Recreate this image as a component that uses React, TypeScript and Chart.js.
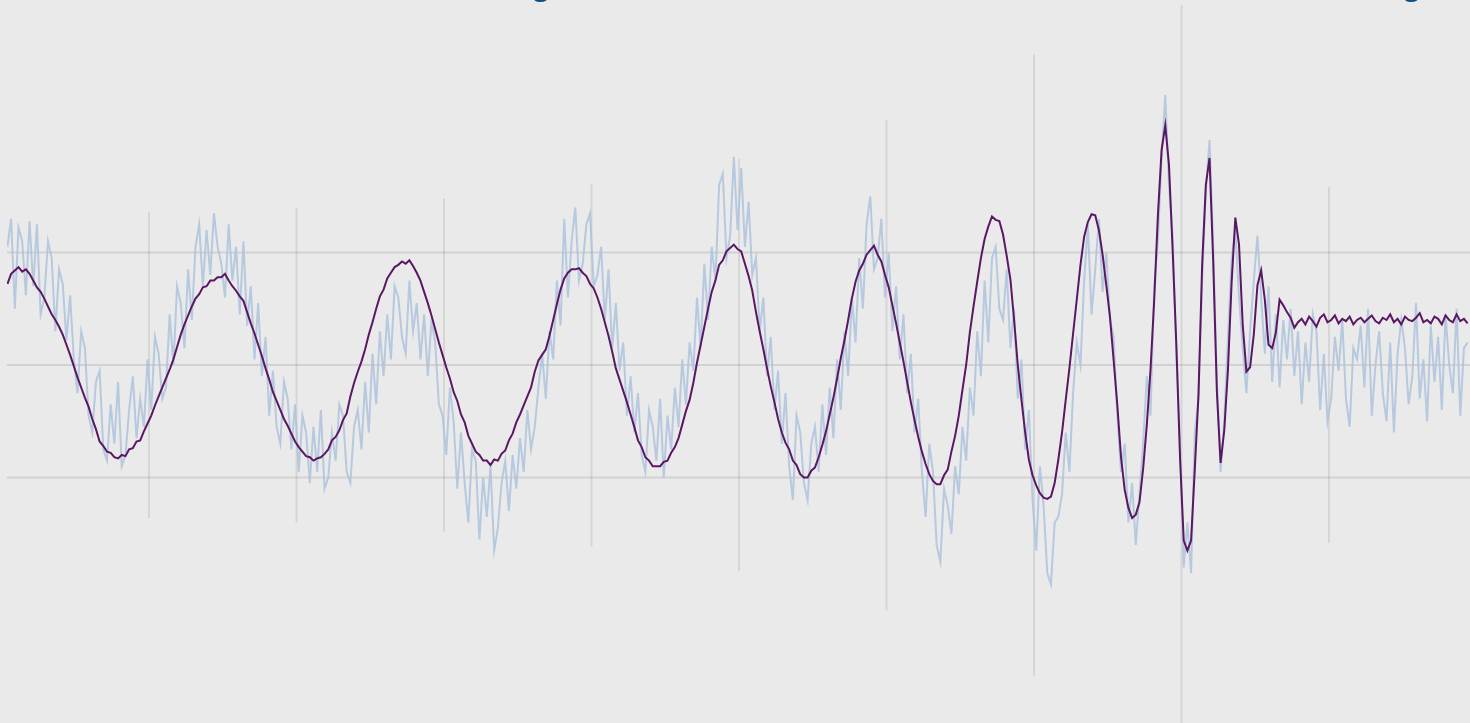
import { useEffect, useRef } from "react";
import { Chart, registerables } from "chart.js";

Chart.register(...registerables);

// ---- axis window (data units) ----
const X_MIN = 0.037;
const X_MAX = 9.956;
const Y_MIN = -3.182;
const Y_MAX = 3.244;

// samples are evenly spaced in time
const SAMPLE_START = 0.04;
const SAMPLE_STEP = 0.025;

// smoothed / template signal (purple)
const smoothed: number[] = [
  0.72, 0.81, 0.84, 0.87, 0.83, 0.85, 0.81, 0.75, 0.69, 0.65,
  0.59, 0.52, 0.45, 0.40, 0.34, 0.27, 0.18, 0.09, -0.01, -0.11,
  -0.20, -0.29, -0.37, -0.48, -0.57, -0.68, -0.72, -0.77, -0.78, -0.82,
  -0.83, -0.80, -0.81, -0.75, -0.74, -0.68, -0.67, -0.59, -0.52, -0.45,
  -0.36, -0.28, -0.20, -0.12, -0.04, 0.05, 0.16, 0.27, 0.36, 0.44,
  0.52, 0.59, 0.63, 0.69, 0.70, 0.75, 0.75, 0.78, 0.78, 0.81,
  0.75, 0.70, 0.66, 0.61, 0.57, 0.47, 0.37, 0.28, 0.18, 0.08,
  -0.03, -0.13, -0.24, -0.32, -0.40, -0.48, -0.54, -0.61, -0.68, -0.73,
  -0.77, -0.81, -0.82, -0.85, -0.83, -0.82, -0.79, -0.75, -0.67, -0.64,
  -0.58, -0.49, -0.43, -0.28, -0.16, -0.06, 0.03, 0.14, 0.27, 0.38,
  0.50, 0.61, 0.67, 0.77, 0.82, 0.87, 0.89, 0.92, 0.90, 0.93,
  0.88, 0.82, 0.75, 0.65, 0.55, 0.44, 0.32, 0.20, 0.09, -0.02,
  -0.12, -0.24, -0.32, -0.44, -0.51, -0.63, -0.70, -0.77, -0.80, -0.85,
  -0.85, -0.89, -0.84, -0.85, -0.79, -0.76, -0.67, -0.61, -0.51, -0.44,
  -0.36, -0.28, -0.20, -0.06, 0.04, 0.09, 0.14, 0.26, 0.40, 0.54,
  0.67, 0.77, 0.82, 0.85, 0.85, 0.86, 0.82, 0.79, 0.72, 0.68,
  0.60, 0.50, 0.38, 0.26, 0.12, -0.03, -0.13, -0.23, -0.33, -0.44,
  -0.55, -0.67, -0.73, -0.82, -0.85, -0.90, -0.90, -0.90, -0.86, -0.85,
  -0.78, -0.73, -0.65, -0.53, -0.41, -0.31, -0.16, 0.02, 0.18, 0.34,
  0.50, 0.65, 0.75, 0.89, 0.93, 1.01, 1.04, 1.07, 1.03, 1.01,
  0.90, 0.79, 0.66, 0.47, 0.30, 0.14, -0.03, -0.19, -0.33, -0.48,
  -0.60, -0.69, -0.75, -0.85, -0.89, -0.97, -1.00, -1.00, -0.94, -0.91,
  -0.82, -0.71, -0.59, -0.44, -0.29, -0.12, 0.06, 0.22, 0.40, 0.59,
  0.74, 0.84, 0.90, 0.98, 1.02, 1.06, 0.98, 0.92, 0.80, 0.69,
  0.53, 0.37, 0.20, 0.03, -0.15, -0.33, -0.49, -0.64, -0.77, -0.88,
  -0.97, -1.03, -1.06, -1.06, -0.98, -0.93, -0.77, -0.63, -0.45, -0.22,
  0.00, 0.29, 0.52, 0.74, 0.95, 1.12, 1.23, 1.32, 1.29, 1.28,
  1.16, 0.97, 0.76, 0.40, 0.00, -0.31, -0.60, -0.84, -0.98, -1.07,
  -1.14, -1.18, -1.19, -1.17, -1.05, -0.84, -0.60, -0.31, -0.03, 0.28,
  0.58, 0.89, 1.14, 1.27, 1.34, 1.33, 1.20, 0.98, 0.71, 0.43,
  0.04, -0.36, -0.82, -1.11, -1.27, -1.36, -1.33, -1.22, -0.92, -0.53,
  -0.04, 0.58, 1.33, 1.91, 2.13, 1.78, 1.02, 0.18, -0.82, -1.56,
  -1.65, -1.56, -0.93, -0.27, 0.89, 1.60, 1.84, 0.92, -0.24, -0.87,
  -0.58, -0.04, 0.74, 1.31, 1.07, 0.36, -0.06, -0.02, 0.27, 0.71,
  0.84, 0.58, 0.18, 0.15, 0.29, 0.58, 0.53, 0.47, 0.42, 0.33,
  0.38, 0.41, 0.36, 0.43, 0.39, 0.34, 0.42, 0.45, 0.38, 0.40,
  0.44, 0.37, 0.41, 0.39, 0.43, 0.36, 0.40, 0.42, 0.38, 0.41,
  0.44, 0.39, 0.37, 0.42, 0.40, 0.45, 0.38, 0.41, 0.36, 0.43,
  0.40, 0.39, 0.42, 0.46, 0.38, 0.40, 0.37, 0.43, 0.41, 0.36,
  0.44, 0.40, 0.38, 0.45, 0.39, 0.41, 0.37,
];

// raw noisy signal (light blue)
const noisy: number[] = [
  1.05, 1.30, 0.50, 1.22, 1.10, 0.62, 1.28, 0.70, 1.25, 0.45,
  0.60, 1.10, 0.95, 0.30, 0.85, 0.72, 0.22, 0.62, 0.05, -0.25,
  0.30, 0.15, -0.45, -0.60, -0.15, -0.05, -0.75, -0.85, -0.35, -0.70,
  -0.15, -0.90, -0.80, -0.40, -0.10, -0.65, -0.30, -0.55, 0.05, -0.40,
  0.25, 0.10, -0.30, -0.20, 0.45, 0.00, 0.70, 0.55, 0.15, 0.85,
  0.40, 1.05, 1.25, 0.70, 1.20, 0.80, 1.35, 1.05, 0.90, 0.60,
  1.25, 0.75, 1.05, 0.45, 1.10, 0.35, 0.70, 0.05, 0.55, -0.10,
  0.25, -0.45, -0.05, -0.55, -0.70, -0.15, -0.30, -0.75, -0.35, -0.95,
  -0.45, -0.60, -1.05, -0.55, -0.95, -0.40, -1.10, -1.00, -0.60, -0.85,
  -0.35, -0.45, -0.95, -1.05, -0.55, -0.40, -0.75, -0.15, -0.60, 0.10,
  -0.35, 0.30, -0.10, 0.45, 0.05, 0.70, 0.60, 0.25, 0.10, 0.75,
  0.30, 0.55, 0.05, 0.45, -0.10, 0.40, 0.20, -0.35, -0.45, -0.80,
  -0.20, -0.50, -1.10, -0.60, -1.05, -1.40, -0.75, -0.85, -1.55, -1.00,
  -1.35, -0.90, -1.65, -1.45, -1.05, -0.85, -1.30, -0.80, -1.10, -0.65,
  -0.95, -0.40, -0.75, -0.55, -0.20, 0.10, -0.30, 0.30, 0.05, 0.75,
  0.35, 1.30, 0.60, 1.10, 1.40, 0.75, 0.90, 1.25, 1.35, 0.70,
  0.80, 1.05, 0.40, 0.85, 0.15, 0.55, -0.05, 0.20, -0.45, -0.10,
  -0.60, -0.25, -0.80, -0.95, -0.40, -0.55, -0.85, -0.30, -1.00, -0.45,
  -0.75, -0.20, -0.55, 0.05, -0.35, 0.20, -0.05, 0.60, 0.15, 0.90,
  0.40, 1.05, 0.75, 1.60, 1.70, 0.95, 1.15, 1.85, 1.20, 1.75,
  1.05, 1.45, 0.80, 0.95, 0.30, 0.60, -0.10, 0.25, -0.40, -0.05,
  -0.70, -0.25, -0.90, -1.20, -0.45, -0.60, -1.05, -1.20, -0.70, -0.55,
  -0.95, -0.35, -0.80, -0.20, -0.65, 0.05, -0.40, 0.30, -0.10, 0.60,
  0.20, 0.95, 0.50, 1.25, 1.50, 0.85, 0.95, 1.30, 0.60, 1.00,
  0.30, 0.70, 0.05, 0.45, -0.25, 0.10, -0.60, -0.30, -0.95, -1.35,
  -0.70, -0.95, -1.60, -1.75, -1.10, -1.25, -1.50, -0.90, -1.15, -0.55,
  -0.85, -0.20, -0.45, 0.30, -0.10, 0.75, 0.20, 0.95, 1.05, 0.50,
  0.40, 0.85, 0.15, 0.50, -0.30, 0.05, -0.75, -0.40, -1.20, -1.65,
  -0.90, -1.25, -1.85, -1.95, -1.40, -1.35, -1.15, -0.60, -0.95, -0.25,
  0.20, 0.00, 0.75, 1.25, 0.45, 0.85, 1.30, 0.65, 1.00, 0.40,
  0.25, -0.45, -0.95, -0.70, -1.40, -1.05, -1.60, -1.15, -0.70, -0.10,
  -0.45, 0.70, 1.10, 1.85, 2.40, 1.60, 1.15, 0.10, -0.70, -1.80,
  -1.40, -1.85, -0.60, -0.30, 0.75, 1.55, 2.00, 1.05, -0.15, -0.95,
  -0.50, 0.25, 0.95, 1.20, 0.60, 0.15, -0.25, 0.30, 0.75, 1.15,
  0.60, 0.10, 0.70, -0.15, 0.45, -0.20, 0.40, 0.05, 0.50, -0.10,
  0.30, -0.35, 0.20, -0.15, 0.45, 0.30, -0.40, 0.10, -0.50, -0.30,
  0.25, -0.05, 0.40, -0.30, -0.55, 0.15, 0.05, 0.35, -0.20, 0.50,
  -0.45, 0.00, 0.30, -0.25, -0.50, 0.20, -0.60, 0.10, 0.40, 0.15,
  -0.35, -0.10, 0.55, -0.30, 0.05, -0.50, 0.35, -0.15, 0.25, -0.40,
  0.45, 0.00, -0.25, 0.50, -0.45, 0.15, 0.20,
];

// vertical markers: position and half-height (symmetric about zero)
const markerX: number[] = [1, 2, 3, 4, 5, 6, 7, 8, 9];
const markerHalf: number[] = [1.36, 1.40, 1.48, 1.61, 1.83, 2.18, 2.76, 3.2, 1.58];

// horizontal reference levels
const refLevels: number[] = [1, 0, -1];

const TITLE = "Merger Strain: Raw Detector Data Versus the Smoothed Trend Near Ringdown";
const TITLE_COLOR = "#0b4f88";
const TITLE_G1_X = 541;
const TITLE_G2_X = 1412;
const TITLE_BASELINE = -4.5;

const BG = "#eaeaea";

const clippedTitle = {
  id: "clippedTitle",
  afterDraw(chart: any) {
    const ctx: CanvasRenderingContext2D = chart.ctx;
    ctx.save();
    const base = 28;
    ctx.font = `bold ${base}px "Open Sans"`;
    const i1 = TITLE.indexOf("g");
    const i2 = TITLE.lastIndexOf("g");
    const gw = ctx.measureText("g").width;
    const c1 = ctx.measureText(TITLE.slice(0, i1)).width + gw / 2;
    const c2 = ctx.measureText(TITLE.slice(0, i2)).width + gw / 2;
    const k = (TITLE_G2_X - TITLE_G1_X) / (c2 - c1);
    const size = base * k;
    ctx.font = `bold ${size}px "Open Sans"`;
    ctx.fillStyle = TITLE_COLOR;
    ctx.textAlign = "left";
    ctx.textBaseline = "alphabetic";
    ctx.fillText(TITLE, TITLE_G1_X - c1 * k, TITLE_BASELINE);
    ctx.restore();
  },
};

export default function App() {
  const ref = useRef<HTMLCanvasElement>(null);

  useEffect(() => {
    const canvas = ref.current;
    if (!canvas) return;

    const smoothPts = smoothed.map((v, i) => ({ x: SAMPLE_START + i * SAMPLE_STEP, y: v }));
    const noisyPts = noisy.map((v, i) => ({ x: SAMPLE_START + i * SAMPLE_STEP, y: v }));
    const markerPts = markerX.flatMap((x, i) => [
      { x, y: -markerHalf[i] },
      { x, y: markerHalf[i] },
      { x, y: null as any },
    ]);
    const levelPts = refLevels.flatMap((l) => [
      { x: X_MIN, y: l },
      { x: X_MAX, y: l },
      { x: X_MAX, y: null as any },
    ]);

    const chart = new Chart(canvas, {
      type: "line",
      data: {
        datasets: [
          {
            label: "Smoothed",
            data: smoothPts,
            borderColor: "#5a1763",
            borderWidth: 2,
            pointRadius: 0,
            tension: 0,
            order: 0,
          },
          {
            label: "Raw",
            data: noisyPts,
            borderColor: "rgba(170,192,220,0.8)",
            borderWidth: 2,
            pointRadius: 0,
            tension: 0,
            order: 1,
          },
          {
            label: "markers",
            data: markerPts,
            borderColor: "rgba(0,0,0,0.09)",
            borderWidth: 2,
            pointRadius: 0,
            spanGaps: false,
            order: 2,
          },
          {
            label: "levels",
            data: levelPts,
            borderColor: "rgba(0,0,0,0.1)",
            borderWidth: 2,
            pointRadius: 0,
            spanGaps: false,
            order: 3,
          },
        ],
      },
      options: {
        responsive: false,
        animation: false,
        devicePixelRatio: 1,
        layout: { padding: { left: 7, right: 0, top: 0, bottom: 0 } },
        plugins: {
          legend: { display: false },
          tooltip: { enabled: false },
          title: { display: false },
        },
        scales: {
          x: { type: "linear", min: X_MIN, max: X_MAX, display: false },
          y: { type: "linear", min: Y_MIN, max: Y_MAX, display: false },
        },
      },
      plugins: [clippedTitle],
    });

    return () => chart.destroy();
  }, []);

  return (
    <div
      style={{
        position: "fixed",
        left: 0,
        top: 0,
        width: "100vw",
        height: "100vh",
        background: BG,
        overflow: "hidden",
      }}
    >
      <canvas
        ref={ref}
        width={1470}
        height={723}
        style={{ display: "block", width: 1470, height: 723, background: BG }}
      />
    </div>
  );
}
